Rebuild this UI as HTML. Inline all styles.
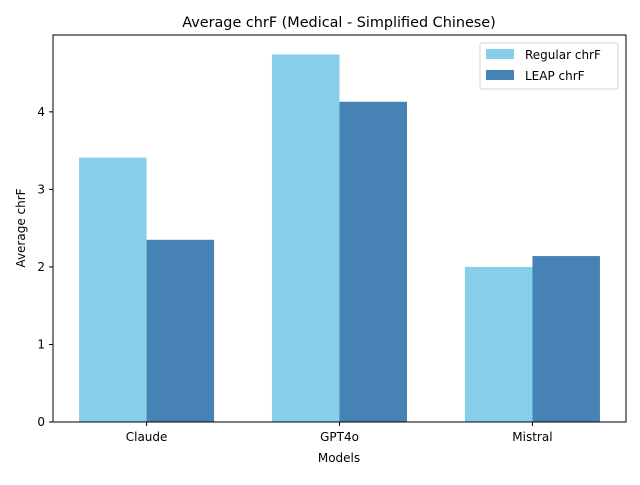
<!DOCTYPE html>
<html><head><meta charset="utf-8"><style>
body{margin:0;background:#fff;font-family:"Liberation Sans","DejaVu Sans",sans-serif;}
svg text{font-family:"DejaVu Sans","Liberation Sans",sans-serif;}
</style></head><body>
<svg id="chart" width="640" height="480" xmlns="http://www.w3.org/2000/svg">
<text x="339" y="27" text-anchor="middle" font-size="14.4">Average chrF (Medical - Simplified Chinese)</text>
<g id="bars"></g>
<rect x="53" y="35" width="573" height="387" fill="none" stroke="#000" stroke-width="1"/>
<g id="axes"></g>
<text x="339" y="462" text-anchor="middle" font-size="12">Models</text>
<text transform="translate(25,228) rotate(-90)" text-anchor="middle" font-size="12">Average chrF</text>
<g>
<rect x="480" y="43" width="138" height="46" rx="2" fill="#fff" stroke="#ccc" stroke-width="1" opacity="0.8"/>
<rect x="486" y="49" width="28" height="10" fill="#87CEEB"/>
<text x="525" y="59" font-size="12">Regular chrF</text>
<rect x="486" y="70" width="28" height="10" fill="#4682B4"/>
<text x="525" y="80" font-size="12">LEAP chrF</text>
</g>
</svg>
<script>
const categories = ["Claude", "GPT4o", "Mistral"];
const regularValues = [3.41, 4.74, 2.0];
const leapValues = [2.35, 4.13, 2.14];
const yTicks = [0, 1, 2, 3, 4];

const NS = "http://www.w3.org/2000/svg";
const plotLeft = 53, plotRight = 626, plotTop = 35, plotBottom = 422;
const barW = 0.35;
const xmin = -barW - 0.05 * (categories.length - 1 + 2 * barW);
const xmax = categories.length - 1 + barW + 0.05 * (categories.length - 1 + 2 * barW);
const ymax = Math.max(...regularValues, ...leapValues) * 1.053;
const xs = v => plotLeft + (v - xmin) / (xmax - xmin) * (plotRight - plotLeft);
const ys = v => plotBottom - v / ymax * (plotBottom - plotTop);

const barsG = document.getElementById("bars");
const axesG = document.getElementById("axes");
function mk(tag, attrs, parent) {
  const e = document.createElementNS(NS, tag);
  for (const k in attrs) e.setAttribute(k, attrs[k]);
  parent.appendChild(e);
  return e;
}
categories.forEach((c, i) => {
  const r = mk("rect", {x: xs(i - barW), y: ys(regularValues[i]), width: xs(i) - xs(i - barW), height: ys(0) - ys(regularValues[i]), fill: "#87CEEB"}, barsG);
  
  
  const l = mk("rect", {x: xs(i), y: ys(leapValues[i]), width: xs(i + barW) - xs(i), height: ys(0) - ys(leapValues[i]), fill: "#4682B4"}, barsG);
  
  
  const t = mk("line", {x1: xs(i), x2: xs(i), y1: plotBottom, y2: plotBottom + 4, stroke: "#000"}, axesG);
  
  
  const tx = mk("text", {x: xs(i), y: plotBottom + 19, "text-anchor": "middle", "font-size": 12}, axesG);
  tx.textContent = c;
  
  
});
yTicks.forEach(v => {
  const t = mk("line", {x1: plotLeft - 4, x2: plotLeft, y1: ys(v), y2: ys(v), stroke: "#000"}, axesG);
  
  
  const tx = mk("text", {x: plotLeft - 8, y: ys(v) + 4, "text-anchor": "end", "font-size": 12}, axesG);
  tx.textContent = v;
  
  
});
</script>
</body></html>
